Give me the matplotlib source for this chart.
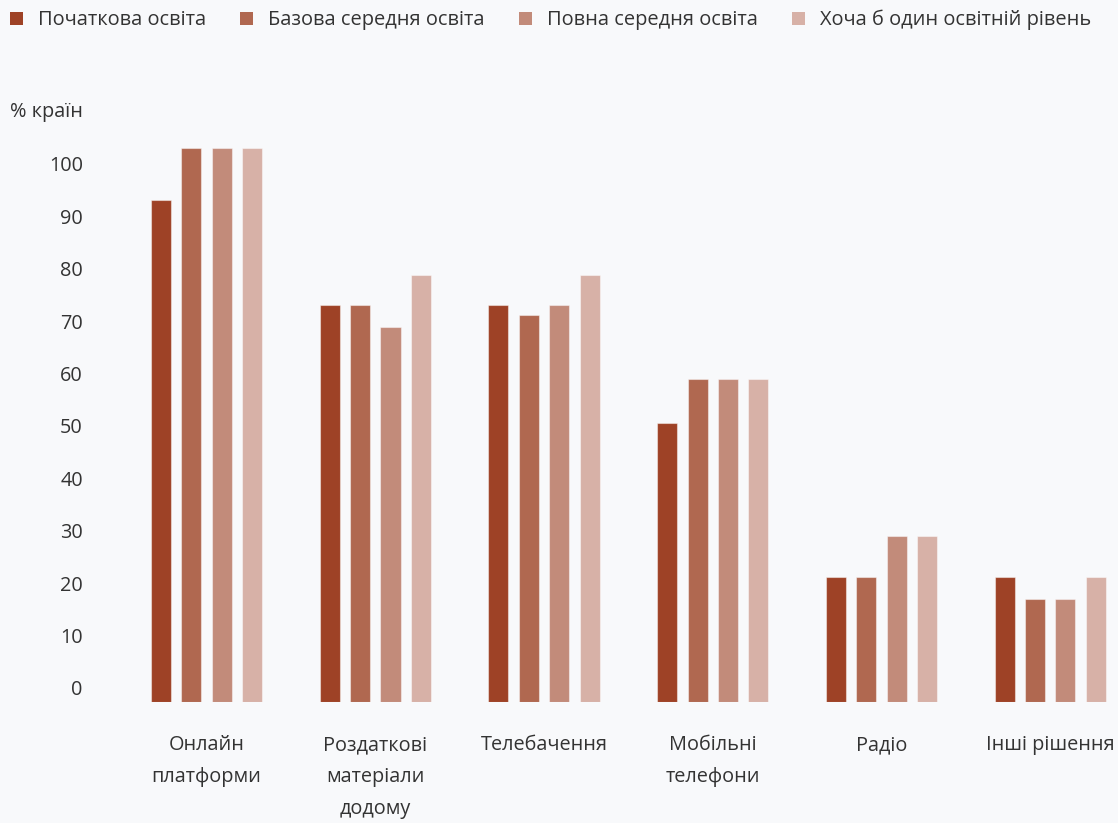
import matplotlib.pyplot as plt
from matplotlib.patches import Patch
import numpy as np

plt.rcParams['font.family'] = ['Open Sans', 'DejaVu Sans']

categories = ['Онлайн\nплатформи', 'Роздаткові\nматеріали\nдодому', 'Телебачення',
              'Мобільні\nтелефони', 'Радіо', 'Інші рішення']
series = ['Початкова освіта', 'Базова середня освіта', 'Повна середня освіта',
          'Хоча б один освітній рівень']

primary    = [90.5, 71.7, 71.7, 50.3, 22.5, 22.5]
lower_sec  = [100.0, 71.7, 69.8, 58.2, 22.5, 18.6]
upper_sec  = [100.0, 67.6, 71.7, 58.2, 30.0, 18.6]
any_level  = [100.0, 77.1, 77.1, 58.2, 30.0, 22.5]

tick_vals = [0, 10, 20, 30, 40, 50, 60, 70, 80, 90, 100]

colors = ['#9e4226', '#b06850', '#c28b7a', '#d7b1a7']
bg = '#f8f9fb'
txt = '#333333'
fs = 14.3

W, H = 1118, 823
fig = plt.figure(figsize=(W/100, H/100), dpi=100)
fig.patch.set_facecolor(bg)

# axes in pixel terms: x 130..1118, y 140..702
ax = fig.add_axes([130/W, 1 - 702/H, (W - 130)/W, (702 - 140)/H])
ax.set_facecolor(bg)

x = np.arange(len(categories))
step = 0.180
width = 0.1186
for j, (vals, c) in enumerate(zip([primary, lower_sec, upper_sec, any_level], colors)):
    ax.bar(x + (j - 1.5)*step, vals, width=width, color=c,
           edgecolor=(1, 1, 1, 0.45), linewidth=0.8)

ax.set_xlim(-0.454, 5.402)
ax.set_ylim(0, 101.4)

# the labels in the original sit a little off the bar scale
tick_pos = [(14 + 5.24*v)/5.54 for v in tick_vals]
ax.set_yticks(tick_pos)
ax.set_yticklabels([str(v) for v in tick_vals], color=txt, fontsize=fs)
ax.tick_params(axis='y', length=0, pad=34)

ax.set_xticks(x)
ax.set_xticklabels(categories, color=txt, fontsize=fs, linespacing=1.8, va='top')
ax.tick_params(axis='x', length=0, pad=24)

for s in ax.spines.values():
    s.set_visible(False)

fig.text(10/W, 1 - 112/H, '% країн', color=txt, fontsize=fs, va='center', ha='left')

handles = [Patch(facecolor=c, edgecolor='none') for c in colors]
fig.legend(handles, series, loc='center left', bbox_to_anchor=(2/W, 1 - 20/H),
           ncol=4, frameon=False, fontsize=14.4, handlelength=0.65, handleheight=0.65,
           handletextpad=0.75, columnspacing=1.7, labelcolor=txt, borderaxespad=0)

fig.savefig('out.png', dpi=100, facecolor=bg)
